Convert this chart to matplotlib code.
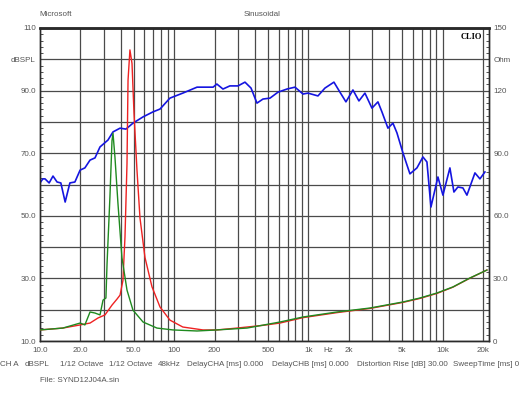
import matplotlib.pyplot as plt
from matplotlib.ticker import FixedLocator, MultipleLocator

plt.rcParams['font.family'] = ['Liberation Sans', 'DejaVu Sans']

# SPL response (blue, left axis dBSPL)
spl_freq = [10, 10.5, 10.9, 11.7, 12.5, 13.4, 14.3, 15.4, 16.7, 18.2, 19.9, 21.6,
            23.6, 25.7, 28.0, 32.1, 35.0, 39.5, 43.7, 49.3, 58.6, 69.5, 78.4, 93,
            116, 148, 195, 208, 231, 260, 299, 337, 374, 414, 459, 518, 594, 693,
            795, 912, 993, 1179, 1329, 1551, 1720, 1906, 2149, 2382, 2641, 2978,
            3301, 3535, 3919, 4269, 4573, 5069, 5716, 6446, 7145, 7653, 8196, 9242,
            10070, 11350, 12160, 13020, 14190, 15200, 17440, 19000, 20700]
spl_db = [60.5, 61.8, 61.8, 60.5, 62.7, 60.8, 60.5, 54.4, 60.5, 60.8, 64.6, 65.3,
          67.8, 68.5, 72.0, 74.2, 76.8, 78.0, 77.7, 79.6, 81.6, 83.2, 84.1, 87.6,
          89.2, 91.1, 91.1, 92.1, 90.5, 91.5, 91.5, 92.7, 90.8, 86.0, 87.3, 87.6,
          89.5, 90.5, 91.1, 88.9, 89.2, 88.3, 90.8, 92.7, 89.5, 86.4, 90.2, 86.7,
          89.2, 84.4, 86.4, 83.2, 78.0, 79.6, 76.5, 70.1, 63.4, 65.3, 68.8, 67.2,
          52.8, 62.4, 56.6, 65.3, 57.6, 59.2, 58.9, 56.6, 63.7, 61.8, 64.0]

# impedance curves (right axis, Ohm)
red_freq = [10, 14.8, 19.9, 23.6, 27, 30.5, 34.4, 37.5, 39.5, 41.5, 43, 44.5,
            45.3, 46.8, 48.5, 50.2, 52.8, 55.6, 60.6, 68.3, 78.4, 93, 116, 164,
            208, 294, 459, 614, 912, 1634, 2877, 5069, 6786, 9084, 11950, 16000, 21420]
red_ohm = [5.3, 6.2, 7.7, 8.6, 11.0, 12.5, 17.2, 20.1, 22.0, 29.0, 50.0, 85.0,
           125.0, 139.5, 133.0, 109.0, 82.0, 59.0, 40.0, 26.0, 16.3, 10.0, 6.7, 5.3,
           5.3, 6.2, 7.5, 8.6, 11.2, 13.6, 15.6, 18.5, 20.4, 22.8, 25.8, 30.1, 34.0]

green_freq = [10, 14.8, 19.9, 21.6, 23.6, 25.7, 28, 29.5, 31, 31.6, 33.2, 34.4,
              35, 36.2, 38.1, 40.8, 44.5, 49.3, 58.6, 74.4, 98, 148, 208, 349,
              614, 912, 1634, 2877, 5069, 6786, 9084, 11950, 16000, 21420]
green_ohm = [5.3, 6.2, 8.6, 7.7, 13.9, 13.4, 12.5, 19.6, 20.6, 37.0, 69.0, 96.0,
             99.6, 88.0, 66.0, 40.0, 24.4, 14.8, 9.1, 6.2, 5.3, 4.8, 5.3, 6.2,
             9.1, 11.5, 13.9, 15.8, 18.7, 20.6, 23.0, 25.9, 30.2, 34.0]

x_grid = [20, 30, 40, 50, 60, 70, 80, 90, 100, 200, 300, 400, 500, 600, 700, 800,
          900, 1000, 2000, 3000, 4000, 5000, 6000, 7000, 8000, 9000, 10000, 20000]
x_tick_pos = [10, 20, 50, 100, 200, 500, 1000, 1400, 2000, 5000, 10000, 20000]
x_tick_lab = ['10.0', '20.0', '50.0', '100', '200', '500', '1k', 'Hz', '2k', '5k', '10k', '20k']
left_ticks = [10, 20, 30, 40, 50, 60, 70, 80, 90, 100, 110]
left_labels = ['10.0', '', '30.0', '', '50.0', '', '70.0', '', '90.0', 'dBSPL', '110']
right_ticks = [0, 15, 30, 45, 60, 75, 90, 105, 120, 135, 150]
right_labels = ['0', '', '30.0', '', '60.0', '', '90.0', '', '120', 'Ohm', '150']

footer_items = ['CH A', 'dBSPL', '1/12 Octave', '1/12 Octave', '48kHz',
                'DelayCHA [ms] 0.000', 'DelayCHB [ms] 0.000',
                'Distortion Rise [dB] 30.00', 'SweepTime [ms] 0']
footer_x = [0, 25, 60, 109, 158, 187, 272, 357, 453]

txt = '#555555'
gridc = '#4a4a4a'
fs = 5.8

fig = plt.figure(figsize=(5.3, 3.98), dpi=100)
ax = fig.add_axes([40 / 530, 1 - 341 / 398, 449 / 530, 313 / 398])

ax.set_xscale('log')
ax.set_xlim(10, 22200)
ax.set_ylim(10, 110)

for f in x_grid:
    ax.axvline(f, color=gridc, lw=0.9, zorder=1)
ax.xaxis.set_major_locator(FixedLocator(x_tick_pos))
ax.set_xticklabels(x_tick_lab)
ax.xaxis.set_minor_locator(FixedLocator([]))
ax.tick_params(axis='x', which='both', length=0, labelsize=fs, labelcolor=txt, pad=4)

ax.set_yticks(left_ticks)
ax.set_yticklabels(left_labels)
ax.yaxis.set_minor_locator(MultipleLocator(2))
ax.tick_params(axis='y', which='major', direction='in', length=0, labelsize=fs,
               labelcolor=txt, pad=3)
ax.tick_params(axis='y', which='minor', direction='in', length=2.5, width=0.6, color='#333333')
ax.yaxis.grid(True, which='major', color=gridc, lw=0.9)
ax.set_axisbelow(True)

ax.plot(spl_freq, spl_db, color='#1515e0', lw=1.2, zorder=3)

ax2 = ax.twinx()
ax2.set_ylim(0, 150)
ax2.set_yticks(right_ticks)
ax2.set_yticklabels(right_labels)
ax2.yaxis.set_minor_locator(MultipleLocator(3))
ax2.tick_params(axis='y', which='major', direction='in', length=0, labelsize=fs,
                labelcolor=txt, pad=3)
ax2.tick_params(axis='y', which='minor', direction='in', length=2.5, width=0.6, color='#333333')
ax2.plot(red_freq, red_ohm, color='#ee2222', lw=1.0, zorder=3)
ax2.plot(green_freq, green_ohm, color='#1f8a1f', lw=1.0, zorder=4)

for a in (ax, ax2):
    for s in a.spines.values():
        s.set_color('#2a2a2a')
        s.set_linewidth(1.0)
    a.spines['top'].set_linewidth(1.8)

ax.text(0.985, 0.985, 'CLIO', transform=ax.transAxes, ha='right', va='top',
        fontsize=6, fontweight='bold', family=['Liberation Serif', 'DejaVu Serif'], color='black')

fig.text(55.5 / 530, 1 - 14 / 398, 'Microsoft', ha='center', va='center', fontsize=fs, color=txt)
fig.text(262 / 530, 1 - 14 / 398, 'Sinusoidal', ha='center', va='center', fontsize=fs, color=txt)

for lab, xp in zip(footer_items, footer_x):
    fig.text(xp / 530, 1 - 365 / 398, lab, ha='left', va='center', fontsize=fs, color=txt)
fig.text(40 / 530, 1 - 380 / 398, 'File: SYND12J04A.sin', ha='left', va='center',
         fontsize=fs, color=txt)

fig.savefig('out.png', dpi=100)
